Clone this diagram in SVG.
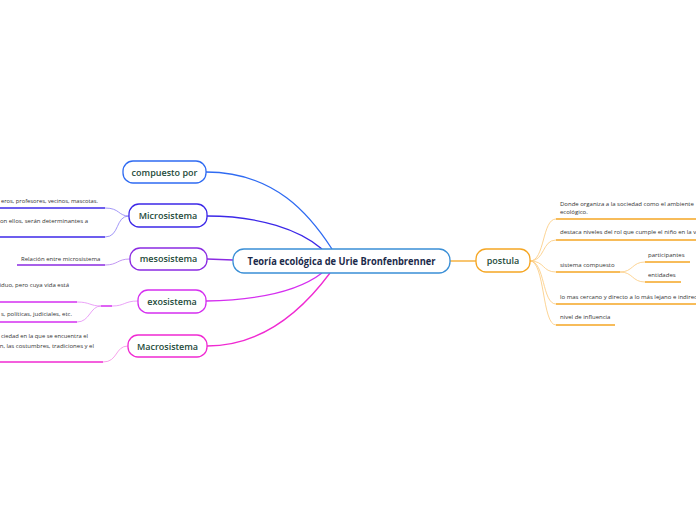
<svg xmlns="http://www.w3.org/2000/svg" width="696" height="520" viewBox="0 0 696 520">
<style>
.node rect{fill:#fff;stroke-width:1.3}
.nt{font-family:"Open Sans","Noto Sans","Liberation Sans",sans-serif;font-size:9px;font-weight:600;fill:#1d4a3a;text-anchor:middle}
.ct{font-family:"Open Sans","Noto Sans","Liberation Sans",sans-serif;font-size:10px;font-weight:700;fill:#1b2a4a;text-anchor:middle}
.st{font-family:"Open Sans","Noto Sans","Liberation Sans",sans-serif;font-size:6px;fill:#333}
.c{fill:none}
</style>
<rect width="696" height="520" fill="#fff"/>
<g id="connectors">
<path class="c" d="M206,172 C275,172 310,215 332,249" stroke="#2f6bf2" stroke-width="1.3"/>
<path class="c" d="M207,216 C260,216 300,230 322,249" stroke="#3c28e8" stroke-width="1.3"/>
<path class="c" d="M207,259 L233,260" stroke="#8b2be2" stroke-width="1.3"/>
<path class="c" d="M206,301 C260,300 300,290 322,273" stroke="#d52ff0" stroke-width="1.3"/>
<path class="c" d="M207,346 C270,346 310,300 330,273" stroke="#f02ad2" stroke-width="1.3"/>
<path class="c" d="M450,261 L476,261" stroke="#f5a623" stroke-width="1.3"/>
<path class="c" d="M105,208 C120,208 118,216 129,216" stroke="#8a7cf5" stroke-width="0.8"/>
<path class="c" d="M105,237 C120,237 115,216 129,216" stroke="#8a7cf5" stroke-width="0.8"/>
<line x1="0" y1="208" x2="105" y2="208" stroke="#3c28e8" stroke-width="1.5"/>
<line x1="0" y1="237" x2="105" y2="237" stroke="#3c28e8" stroke-width="1.5"/>
<path class="c" d="M105,265 C118,265 117,259 130,259" stroke="#b27cf0" stroke-width="0.8"/>
<line x1="17" y1="265" x2="105" y2="265" stroke="#8b2be2" stroke-width="1.5"/>
<path class="c" d="M77,302 C90,302 90,306 101,306" stroke="#e58af5" stroke-width="0.8"/>
<path class="c" d="M77,322 C90,322 90,306 101,306" stroke="#e58af5" stroke-width="0.8"/>
<line x1="101" y1="306" x2="112" y2="306" stroke="#d52ff0" stroke-width="1.5"/>
<path class="c" d="M112,306 C125,306 124,301 138,301" stroke="#e58af5" stroke-width="0.8"/>
<line x1="0" y1="302" x2="77" y2="302" stroke="#d52ff0" stroke-width="1.5"/>
<line x1="0" y1="322" x2="77" y2="322" stroke="#d52ff0" stroke-width="1.5"/>
<path class="c" d="M103,362 C118,362 115,346 128,346" stroke="#f58ae5" stroke-width="0.8"/>
<line x1="0" y1="362" x2="103" y2="362" stroke="#f02ad2" stroke-width="1.5"/>
<g stroke="#fbc97a" stroke-width="0.8" fill="none">
<path d="M530,261 C545,261 542,219 556,219"/>
<path d="M530,261 C545,261 542,240 556,240"/>
<path d="M530,261 C545,261 542,272 556,272"/>
<path d="M530,261 C545,261 542,304 556,304"/>
<path d="M530,261 C545,261 542,325 556,325"/>
<path d="M620,272 C633,272 632,262 645,262"/>
<path d="M620,272 C633,272 632,282 645,282"/>
</g>
<g stroke="#f5a623" stroke-width="1.5">
<line x1="556" y1="219" x2="696" y2="219"/>
<line x1="556" y1="240" x2="696" y2="240"/>
<line x1="556" y1="272" x2="620" y2="272"/>
<line x1="556" y1="304" x2="696" y2="304"/>
<line x1="556" y1="325" x2="615" y2="325"/>
<line x1="645" y1="262" x2="690" y2="262"/>
<line x1="645" y1="282" x2="681" y2="282"/>
</g>
</g>
<g id="central" class="node"><rect x="233" y="249" width="217" height="24" rx="11" stroke="#3a8fd6" fill="#fff"/><text class="ct" x="341.5" y="264.5" textLength="188" lengthAdjust="spacingAndGlyphs">Teoría ecológica de Urie Bronfenbrenner</text></g>
<g id="compuesto" class="node"><rect x="123" y="161" width="83" height="22" rx="10" stroke="#2f6bf2"/><text class="nt" x="164.5" y="175.5">compuesto por</text></g>
<g id="microsistema" class="node"><rect x="129" y="204" width="78" height="23" rx="10" stroke="#3c28e8"/><text class="nt" x="168" y="218.5">Microsistema</text></g>
<g id="mesosistema" class="node"><rect x="130" y="248" width="77" height="22" rx="10" stroke="#8b2be2"/><text class="nt" x="168.5" y="262">mesosistema</text></g>
<g id="exosistema" class="node"><rect x="138" y="290" width="68" height="23" rx="10" stroke="#d52ff0"/><text class="nt" x="172" y="304.5">exosistema</text></g>
<g id="macrosistema" class="node"><rect x="128" y="335" width="79" height="22" rx="10" stroke="#f02ad2"/><text class="nt" x="167.5" y="349.5">Macrosistema</text></g>
<g id="postula" class="node"><rect x="476" y="249" width="54" height="23" rx="10" stroke="#f5a623"/><text class="nt" x="503" y="263.5">postula</text></g>
<g id="micro-1"><text class="st" x="1" y="203" textLength="97" lengthAdjust="spacingAndGlyphs">eros, profesores, vecinos, mascotas.</text></g>
<g id="micro-2"><text class="st" x="88" y="223" text-anchor="end">on ellos, serán determinantes a</text></g>
<g id="meso-1"><text class="st" x="21" y="261">Relación entre microsistema</text></g>
<g id="exo-1"><text class="st" x="69" y="287" text-anchor="end">iduo, pero cuya vida está</text></g>
<g id="exo-2"><text class="st" x="72" y="316" text-anchor="end">s, políticas, judiciales, etc.</text></g>
<g id="macro-1"><text class="st" x="1" y="338" textLength="87" lengthAdjust="spacingAndGlyphs">ciedad en la que se encuentra el</text><text class="st" x="94" y="348" text-anchor="end">n, las costumbres, tradiciones y el</text></g>
<g id="post-1"><text class="st" x="560" y="206">Donde organiza a la sociedad como el ambiente</text><text class="st" x="560" y="214">ecológico.</text></g>
<g id="post-2"><text class="st" x="560" y="234">destaca niveles del rol que cumple el niño en la v</text></g>
<g id="post-3"><text class="st" x="560" y="267">sistema compuesto</text></g>
<g id="post-3a"><text class="st" x="648" y="257">participantes</text></g>
<g id="post-3b"><text class="st" x="648" y="277">entidades</text></g>
<g id="post-4"><text class="st" x="560" y="299">lo mas cercano y directo a lo más lejano e indirec</text></g>
<g id="post-5"><text class="st" x="560" y="319">nivel de influencia</text></g>
</svg>
